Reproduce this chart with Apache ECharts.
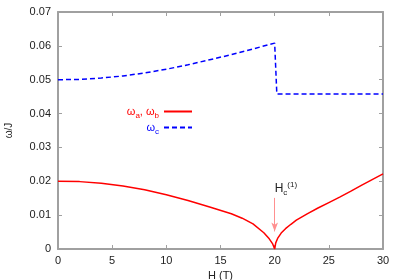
<!DOCTYPE html>
<html>
<head>
<meta charset="utf-8">
<script src="https://cdn.jsdelivr.net/npm/echarts@6/dist/echarts.min.js"></script>
<style>html,body{margin:0;padding:0;background:#fff;}#c{width:400px;height:280px;}</style>
</head>
<body>
<div id="c"></div>
<script>
// omega_a, omega_b (red solid)
const hAB = [0, 2, 4, 6, 8, 10, 12, 14, 16, 17, 18, 19, 19.5, 19.8, 20, 20.1, 20.3, 20.6, 21, 21.5, 22, 23, 24, 25, 26, 27, 28, 29, 30];
const wAB = [0.0200, 0.0199, 0.0194, 0.0186, 0.0175, 0.0160, 0.0143, 0.0124, 0.0104, 0.0091, 0.0074, 0.0048, 0.0030, 0.0016, 0.0000, 0.0018, 0.0033, 0.0047, 0.0060, 0.0073, 0.0085, 0.0104, 0.0121, 0.0137, 0.0153, 0.0170, 0.0188, 0.0205, 0.0222];
// omega_c (blue dashed)
const hC = [0, 2, 4, 6, 8, 10, 12, 14, 16, 18, 20, 20.2, 30];
const wC = [0.0500, 0.0501, 0.0505, 0.0511, 0.0520, 0.0531, 0.0544, 0.0559, 0.0574, 0.0591, 0.0608, 0.0458, 0.0458];
// axis ticks
const xTicks = [0, 5, 10, 15, 20, 25, 30];
const yTicks = [0, 0.01, 0.02, 0.03, 0.04, 0.05, 0.06, 0.07];
// annotation
const hc1 = {x: 20, labelY: 0.0179, arrowFrom: 0.0151, arrowTo: 0.0052};

const axisGray = '#a0a0a0';
const txt = '#222';
const ff = 'Liberation Sans, Arial, sans-serif';

const chart = echarts.init(document.getElementById('c'), null, {renderer: 'canvas'});
const pairs = (xs, ys) => xs.map((x, i) => [x, ys[i]]);

const axisCommon = {
  type: 'value',
  axisLine: {show: true, onZero: false, lineStyle: {color: axisGray, width: 2}},
  axisTick: {show: true, inside: true, length: 4, lineStyle: {color: axisGray, width: 1}},
  splitLine: {show: false}
};

const legRich = {
  w: {fontFamily: ff, fontSize: 11, lineHeight: 16, verticalAlign: 'middle'},
  s: {fontFamily: ff, fontSize: 8, lineHeight: 8, verticalAlign: 'bottom'}
};

chart.setOption({
  animation: false,
  backgroundColor: '#fff',
  grid: {left: 58, right: 17, top: 12, bottom: 31, containLabel: false, outerBoundsMode: 'none'},
  xAxis: [
    Object.assign({}, axisCommon, {
      min: xTicks[0], max: xTicks[xTicks.length - 1], interval: 5, position: 'bottom',
      name: 'H (T)', nameLocation: 'middle', nameGap: 20,
      nameTextStyle: {color: txt, fontSize: 11, fontFamily: ff},
      axisLabel: {color: txt, fontSize: 11, fontFamily: ff, margin: 6}
    }),
    Object.assign({}, axisCommon, {
      min: xTicks[0], max: xTicks[xTicks.length - 1], interval: 5, position: 'top',
      axisLabel: {show: false}
    })
  ],
  yAxis: [
    Object.assign({}, axisCommon, {
      min: yTicks[0], max: yTicks[yTicks.length - 1], interval: 0.01, position: 'left',
      name: 'ω/J', nameLocation: 'middle', nameGap: 44, nameRotate: 90,
      nameTextStyle: {color: txt, fontSize: 10, fontFamily: ff},
      axisLabel: {color: txt, fontSize: 11, fontFamily: ff, margin: 7,
        formatter: v => v === 0 ? '0' : v.toFixed(2)}
    }),
    Object.assign({}, axisCommon, {
      min: yTicks[0], max: yTicks[yTicks.length - 1], interval: 0.01, position: 'right',
      axisLabel: {show: false}
    })
  ],
  legend: [
    {
      data: ['ab'], right: 207, top: 106, orient: 'vertical', align: 'right',
      itemWidth: 28, itemHeight: 10, padding: 0,
      itemStyle: {opacity: 0},
      formatter: () => '{w|ω}{s|a}{w|, ω}{s|b}',
      textStyle: {color: '#ff0000', rich: legRich}
    },
    {
      data: ['c'], right: 207, top: 122, orient: 'vertical', align: 'right',
      itemWidth: 28, itemHeight: 10, padding: 0,
      itemStyle: {opacity: 0},
      formatter: () => '{w|ω}{s|c}',
      textStyle: {color: '#0000ff', rich: legRich}
    }
  ],
  series: [
    {
      name: 'ab', type: 'line', xAxisIndex: 0, yAxisIndex: 0,
      data: pairs(hAB, wAB), showSymbol: false, symbol: 'none', smooth: false,
      lineStyle: {color: '#ff0000', width: 1.5}, itemStyle: {color: '#ff0000'},
      markLine: {
        silent: true, symbol: ['none', 'arrow'], symbolSize: [5, 9],
        lineStyle: {color: '#ff9090', width: 1, type: 'solid'},
        label: {show: false},
        data: [[{coord: [hc1.x, hc1.arrowFrom]}, {coord: [hc1.x, hc1.arrowTo]}]]
      },
      markPoint: {
        silent: true, symbol: 'circle', symbolSize: 0,
        data: [{coord: [hc1.x, hc1.labelY]}],
        label: {
          show: true, position: 'right', distance: 0, color: txt,
          formatter: () => '{h|H}{c|c}{p|(1)}',
          rich: {
            h: {fontFamily: ff, fontSize: 12, lineHeight: 16, verticalAlign: 'middle', color: txt},
            c: {fontFamily: ff, fontSize: 8, lineHeight: 8, verticalAlign: 'bottom', color: txt},
            p: {fontFamily: ff, fontSize: 8, lineHeight: 8, verticalAlign: 'top', color: txt}
          }
        }
      }
    },
    {
      name: 'c', type: 'line', xAxisIndex: 0, yAxisIndex: 0,
      data: pairs(hC, wC), showSymbol: false, symbol: 'none', smooth: false,
      lineStyle: {color: '#0000ff', width: 1.5, type: [5, 3]}, itemStyle: {color: '#0000ff'}
    }
  ]
});
</script>
</body>
</html>
